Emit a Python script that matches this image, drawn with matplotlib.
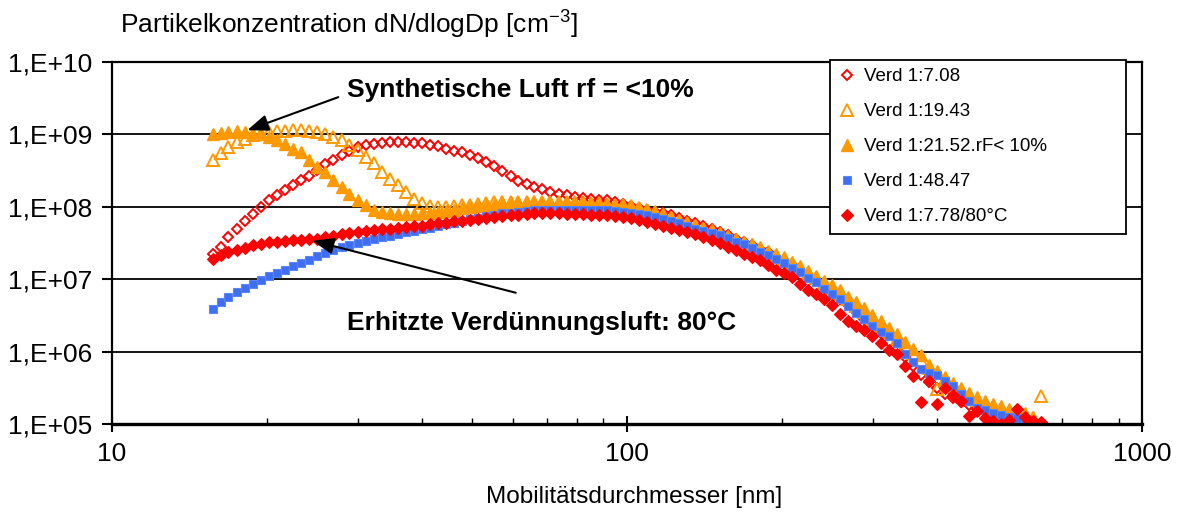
import numpy as np
import matplotlib.pyplot as plt
from matplotlib.ticker import FixedLocator, FixedFormatter, NullFormatter, NullLocator

plt.rcParams["font.family"] = ["Liberation Sans", "DejaVu Sans"]
plt.rcParams["mathtext.fontset"] = "custom"
plt.rcParams["mathtext.rm"] = "Liberation Sans"
plt.rcParams["mathtext.it"] = "Liberation Sans:italic"
plt.rcParams["mathtext.bf"] = "Liberation Sans:bold"

# SMPS channel midpoints, mobility diameter [nm]
dp_nm = [
    15.7, 16.3, 16.8, 17.5, 18.1, 18.8, 19.5, 20.2, 20.9, 21.7,
    22.5, 23.3, 24.1, 25.0, 25.9, 26.9, 27.9, 28.9, 30.0, 31.1,
    32.2, 33.4, 34.6, 35.9, 37.2, 38.5, 40.0, 41.4, 42.9, 44.5,
    46.1, 47.8, 49.6, 51.4, 53.3, 55.2, 57.3, 59.4, 61.5, 63.8,
    66.1, 68.5, 71.0, 73.7, 76.4, 79.1, 82.0, 85.1, 88.2, 91.4,
    94.7, 98.2, 101.8, 105.5, 109.4, 113.4, 117.6, 121.9, 126.3, 131.0,
    135.8, 140.7, 145.9, 151.2, 156.8, 162.5, 168.5, 174.7, 181.1, 187.7,
    194.6, 201.7, 209.1, 216.7, 224.7, 232.9, 241.4, 250.3, 259.5, 269.0,
    278.8, 289.0, 299.6, 310.6, 322.0, 333.8, 346.0, 358.7, 371.8, 385.4,
    399.5, 414.2, 429.4, 445.1, 461.4, 478.3, 495.8, 514.0, 532.8, 552.3,
    572.5, 593.5, 615.3, 637.8,
]

# log10 of dN/dlogDp [cm^-3] per dilution setting
log_n_708 = [
    7.35, 7.44, 7.58, 7.70, 7.81, 7.90, 8.00, 8.09, 8.16, 8.23,
    8.30, 8.37, 8.43, 8.51, 8.59, 8.64, 8.71, 8.77, 8.82, 8.85,
    8.87, 8.88, 8.89, 8.89, 8.89, 8.88, 8.88, 8.86, 8.84, 8.80,
    8.77, 8.75, 8.71, 8.67, 8.62, 8.56, 8.50, 8.43, 8.36, 8.31,
    8.27, 8.24, 8.21, 8.18, 8.16, 8.14, 8.12, 8.11, 8.10, 8.09,
    8.06, 8.04, 8.01, 7.99, 7.96, 7.93, 7.91, 7.88, 7.84, 7.81,
    7.77, 7.73, 7.69, 7.65, 7.61, 7.56, 7.52, 7.47, 7.42, 7.37,
    7.31, 7.25, 7.19, 7.12, 7.05, 6.97, 6.90, 6.82, 6.73, 6.64,
    6.55, 6.45, 6.35, 6.25, 6.13, 6.03, 5.92, 5.80, 5.68, 5.58,
    5.50, 5.42, 5.36, 5.31, 5.26, 5.21, 5.18, 5.14, 5.11, 5.09,
    5.07, 5.05, 5.04,
]
log_n_1943 = [
    8.65, 8.74, 8.83, 8.90, 8.94, 8.99, 9.01, 9.03, 9.05, 9.05,
    9.06, 9.06, 9.05, 9.03, 9.01, 8.97, 8.92, 8.85, 8.78, 8.69,
    8.60, 8.48, 8.39, 8.30, 8.20, 8.11, 8.05, 8.01, 8.00, 8.00,
    8.01, 8.02, 8.03, 8.04, 8.05, 8.06, 8.06, 8.07, 8.07, 8.07,
    8.07, 8.07, 8.07, 8.07, 8.07, 8.06, 8.06, 8.05, 8.05, 8.04,
    8.03, 8.02, 8.01, 7.99, 7.96, 7.93, 7.89, 7.85, 7.81, 7.77,
    7.73, 7.70, 7.66, 7.62, 7.58, 7.54, 7.50, 7.46, 7.41, 7.36,
    7.32, 7.27, 7.21, 7.15, 7.09, 7.02, 6.95, 6.88, 6.80, 6.72,
    6.63, 6.55, 6.45, 6.36, 6.27, 6.18, 6.08, 5.98, 5.88, 5.77,
    5.49, 5.60, 5.52, 5.45, 5.39, 5.33, 5.28, 5.24, 5.21, 5.17,
    5.14, 5.12, 5.08, 5.39,
]
log_n_2152 = [
    9.00, 9.02, 9.04, 9.05, 9.03, 9.01, 9.00, 8.97, 8.92, 8.87,
    8.80, 8.76, 8.64, 8.55, 8.48, 8.37, 8.27, 8.18, 8.09, 8.02,
    7.95, 7.93, 7.91, 7.90, 7.90, 7.90, 7.91, 7.92, 7.93, 7.94,
    7.96, 7.98, 8.00, 8.01, 8.02, 8.03, 8.04, 8.05, 8.05, 8.05,
    8.05, 8.05, 8.05, 8.05, 8.05, 8.05, 8.05, 8.04, 8.03, 8.03,
    8.02, 8.01, 8.00, 7.98, 7.95, 7.93, 7.90, 7.86, 7.82, 7.78,
    7.75, 7.71, 7.68, 7.64, 7.60, 7.56, 7.52, 7.48, 7.44, 7.39,
    7.35, 7.30, 7.24, 7.18, 7.12, 7.05, 6.98, 6.92, 6.85, 6.76,
    6.68, 6.60, 6.50, 6.42, 6.33, 6.24, 6.13, 6.04, 5.95, 5.82,
    5.73, 5.65, 5.56, 5.50, 5.43, 5.37, 5.32, 5.28, 5.25, 5.21,
    5.18, 5.15, 5.10,
]
log_n_4847 = [
    6.59, 6.68, 6.75, 6.82, 6.88, 6.93, 6.99, 7.04, 7.09, 7.13,
    7.18, 7.22, 7.27, 7.32, 7.36, 7.40, 7.44, 7.47, 7.50, 7.53,
    7.55, 7.58, 7.60, 7.62, 7.65, 7.67, 7.69, 7.71, 7.73, 7.76,
    7.78, 7.80, 7.83, 7.85, 7.87, 7.89, 7.91, 7.92, 7.93, 7.94,
    7.95, 7.96, 7.96, 7.96, 7.96, 7.96, 7.96, 7.96, 7.95, 7.95,
    7.94, 7.93, 7.92, 7.90, 7.88, 7.86, 7.83, 7.80, 7.77, 7.73,
    7.70, 7.67, 7.64, 7.61, 7.57, 7.52, 7.48, 7.43, 7.38, 7.33,
    7.28, 7.22, 7.16, 7.10, 7.02, 6.96, 6.87, 6.80, 6.73, 6.63,
    6.53, 6.45, 6.35, 6.27, 6.22, 6.12, 5.97, 5.85, 5.76, 5.71,
    5.68, 5.60, 5.52, 5.42, 5.32, 5.22, 5.19, 5.15, 5.13, 5.09,
    5.08, 5.07,
]
log_n_778_80c = [
    7.28, 7.33, 7.37, 7.40, 7.43, 7.47, 7.49, 7.51, 7.52, 7.53,
    7.54, 7.54, 7.55, 7.56, 7.58, 7.60, 7.62, 7.64, 7.65, 7.67,
    7.68, 7.69, 7.70, 7.71, 7.72, 7.73, 7.74, 7.76, 7.77, 7.78,
    7.80, 7.81, 7.82, 7.83, 7.85, 7.86, 7.87, 7.88, 7.89, 7.90,
    7.91, 7.91, 7.91, 7.91, 7.90, 7.90, 7.90, 7.89, 7.89, 7.88,
    7.87, 7.86, 7.84, 7.82, 7.79, 7.76, 7.73, 7.71, 7.68, 7.65,
    7.62, 7.58, 7.54, 7.50, 7.45, 7.40, 7.35, 7.31, 7.26, 7.19,
    7.13, 7.09, 7.03, 6.93, 6.85, 6.80, 6.72, 6.65, 6.52, 6.42,
    6.36, 6.30, 6.21, 6.12, 6.02, 5.96, 5.80, 5.66, 5.30, 5.60,
    5.28, 5.50, 5.40, 5.32, 5.11, 5.18, 5.08, 5.04, 5.00, 5.05,
    5.21, 5.10, 5.04, 5.03,
]

y_ticks = [1e5, 1e6, 1e7, 1e8, 1e9, 1e10]
y_tick_labels = ["1,E+05", "1,E+06", "1,E+07", "1,E+08", "1,E+09", "1,E+10"]
x_ticks = [10, 100, 1000]
x_tick_labels = ["10", "100", "1000"]

RED = "#ff0000"
ORANGE = "#ff9900"
BLUE = "#3f6ef2"

fig = plt.figure(figsize=(11.78, 5.12), dpi=100)
ax = fig.add_axes([0.0951, 0.1719, 0.8744, 0.7070])

dp = np.array(dp_nm)


def series(vals):
    n = len(vals)
    return dp[:n], 10 ** np.array(vals)


x, y = series(log_n_708)
ax.plot(x, y, ls="none", marker="D", ms=5.6, mfc="none", mec=RED, mew=1.4,
        label="Verd 1:7.08")
x, y = series(log_n_1943)
ax.plot(x, y, ls="none", marker="^", ms=8.0, mfc="none", mec=ORANGE, mew=1.4,
        label="Verd 1:19.43")
x, y = series(log_n_2152)
ax.plot(x, y, ls="none", marker="^", ms=8.0, mfc=ORANGE, mec=ORANGE, mew=1.0,
        label="Verd 1:21.52.rF< 10%")
x, y = series(log_n_4847)
ax.plot(x, y, ls="none", marker="s", ms=6.2, mfc=BLUE, mec="#5b86f7", mew=0.8,
        label="Verd 1:48.47")
x, y = series(log_n_778_80c)
ax.plot(x, y, ls="none", marker="D", ms=5.8, mfc=RED, mec=RED, mew=0.8,
        label="Verd 1:7.78/80°C")

ax.set_xscale("log")
ax.set_yscale("log")
ax.set_xlim(10, 1000)
ax.set_ylim(1e5, 1e10)

ax.yaxis.set_major_locator(FixedLocator(y_ticks))
ax.yaxis.set_major_formatter(FixedFormatter(y_tick_labels))
ax.yaxis.set_minor_locator(NullLocator())
ax.xaxis.set_major_locator(FixedLocator(x_ticks))
ax.xaxis.set_major_formatter(FixedFormatter(x_tick_labels))
ax.xaxis.set_minor_locator(FixedLocator([20, 30, 40, 50, 60, 70, 80, 90,
                                         200, 300, 400, 500, 600, 700, 800, 900]))
ax.xaxis.set_minor_formatter(NullFormatter())

ax.tick_params(axis="x", which="major", direction="inout", length=12, width=1.5,
               labelsize=19, pad=7)
ax.tick_params(axis="x", which="minor", direction="in", length=4, width=1.0)
ax.tick_params(axis="y", which="major", direction="out", length=7, width=1.5,
               labelsize=19, pad=7)

ax.grid(axis="y", which="major", color="black", lw=1.3)
ax.set_axisbelow(True)
for side in ["left", "right", "top", "bottom"]:
    ax.spines[side].set_linewidth(1.6)
ax.spines["bottom"].set_linewidth(2.4)

fig.text(120 / 1178, 1 - 25 / 512, r"Partikelkonzentration dN/dlogDp [cm$^{\mathregular{-3}}$]",
         ha="left", va="center", fontsize=19)
ax.set_xlabel("Mobilitätsdurchmesser [nm]", fontsize=17.5)
ax.xaxis.set_label_coords(0.507, -0.172)

# annotation arrows and labels
arrow = dict(arrowstyle="-|>,head_length=1.3,head_width=0.5", color="black", lw=1.5,
             shrinkA=0, shrinkB=0)
ax.text(28.6, 4.1e9, "Synthetische Luft rf = <10%", fontsize=19, fontweight="bold",
        ha="left", va="center")
ax.annotate("", xy=(18.3, 1.14e9), xytext=(27.5, 3.27e9), arrowprops=arrow)
ax.text(28.6, 2.5e6, "Erhitzte Verdünnungsluft: 80°C", fontsize=19, fontweight="bold",
        ha="left", va="center")
ax.annotate("", xy=(24.5, 3.4e7), xytext=(60.8, 6.5e6), arrowprops=arrow)

leg = ax.legend(loc="upper left", bbox_to_anchor=(0.697, 0.4, 0.287, 0.606),
                mode="expand", fontsize=13.5,
                frameon=True, fancybox=False, framealpha=1, edgecolor="black",
                borderaxespad=0, borderpad=0.45, labelspacing=0.95, handlelength=0.9,
                handletextpad=0.45, numpoints=1)
leg.get_frame().set_linewidth(1.3)

fig.savefig("out.png", dpi=100)
